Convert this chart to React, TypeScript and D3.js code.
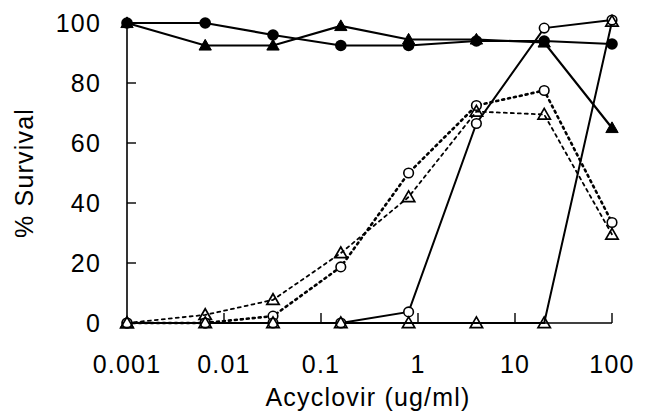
import React from "react";
import * as d3 from "d3";

// concentrations (first point = no drug, plotted at 0.001)
const conc = [0.001, 0.0064, 0.032, 0.16, 0.8, 4, 20, 100];

const filledCircle = [100, 100, 96, 92.5, 92.5, 94, 94, 93];
const filledTriangle = [100, 92.5, 92.5, 99, 94.5, 94.5, 93.5, 65];
const openCircleSolid = [0, 0, 0, 0, 3.7, 66.5, 98.3, 101];
const openTriangleSolid = [0, 0, 0, 0, 0, 0, 0, 100.5];
const openCircleDotted = [0, 0, 2.3, 18.7, 50, 72.5, 77.5, 33.5];
const openTriangleDotted = [0, 2.7, 7.7, 23.3, 42, 70.5, 69.5, 29.5];

const xTicks = [0.001, 0.01, 0.1, 1, 10, 100];
const xTickLabels = ["0.001", "0.01", "0.1", "1", "10", "100"];
const yTicks = [0, 20, 40, 60, 80, 100];

type Marker = "circle" | "triangle";

interface Series {
  values: number[];
  marker: Marker;
  filled: boolean;
  dash?: string;
  width: number;
}

const series: Series[] = [
  { values: openCircleDotted, marker: "circle", filled: false, dash: "2,4", width: 2.6 },
  { values: openTriangleDotted, marker: "triangle", filled: false, dash: "3,4", width: 1.8 },
  { values: openCircleSolid, marker: "circle", filled: false, width: 2 },
  { values: openTriangleSolid, marker: "triangle", filled: false, width: 2 },
  { values: filledCircle, marker: "circle", filled: true, width: 2.2 },
  { values: filledTriangle, marker: "triangle", filled: true, width: 2.2 },
];

const W = 653;
const H = 415;
const FONT = "'Liberation Sans', Arial, sans-serif";

export default function App() {
  const x = d3.scaleLog().domain([0.001, 100]).range([127, 612]);
  const y = d3.scaleLinear().domain([0, 100]).range([323, 23]);

  const line = d3
    .line<number>()
    .x((_, i) => x(conc[i]))
    .y((d) => y(d));

  const tri = d3.symbol().type(d3.symbolTriangle).size(66)();

  const marker = (s: Series, v: number, i: number) => {
    const cx = x(conc[i]);
    const cy = y(v);
    if (s.marker === "circle") {
      return s.filled ? (
        <circle key={i} cx={cx} cy={cy} r={5.8} fill="#000" />
      ) : (
        <circle key={i} cx={cx} cy={cy} r={4.8} fill="#fff" stroke="#000" strokeWidth={1.6} />
      );
    }
    return (
      <path
        key={i}
        d={tri ?? ""}
        transform={`translate(${cx},${cy + 1})`}
        fill={s.filled ? "#000" : "none"}
        stroke="#000"
        strokeWidth={s.filled ? 1 : 1.7}
        strokeLinejoin="miter"
      />
    );
  };

  return (
    <svg
      width={W}
      height={H}
      style={{ position: "absolute", left: 0, top: 0, background: "#fff" }}
      fontFamily={FONT}
    >
      <rect width={W} height={H} fill="#fff" />

      {/* axes */}
      <line x1={127} x2={127} y1={y(100)} y2={y(0)} stroke="#000" strokeWidth={1.6} />
      <line x1={127} x2={612} y1={y(0)} y2={y(0)} stroke="#000" strokeWidth={1.6} />
      {yTicks.slice(1, -1).map((t) => (
        <line key={t} x1={127} x2={136} y1={y(t)} y2={y(t)} stroke="#000" strokeWidth={1.4} />
      ))}
      {xTicks.slice(1).map((t) => (
        <line key={t} x1={x(t)} x2={x(t)} y1={y(0)} y2={y(0) - 10} stroke="#000" strokeWidth={1.4} />
      ))}

      {yTicks.map((t) => (
        <text
          key={t}
          x={101}
          y={y(t) + 9}
          textAnchor="end"
          fontSize={25}
          letterSpacing={1.2}
          fill="#000"
        >
          {t}
        </text>
      ))}
      {xTicks.map((t, i) => (
        <text
          key={t}
          x={x(t)}
          y={373}
          textAnchor="middle"
          fontSize={25}
          letterSpacing={1.2}
          fill="#000"
        >
          {xTickLabels[i]}
        </text>
      ))}

      <text x={368} y={406} textAnchor="middle" fontSize={25} letterSpacing={1.2} fill="#000">
        Acyclovir (ug/ml)
      </text>
      <text
        transform={`translate(33,${(y(0) + y(100)) / 2}) rotate(-90)`}
        textAnchor="middle"
        fontSize={25}
        letterSpacing={1.2}
        fill="#000"
      >
        % Survival
      </text>

      {/* lines */}
      {series.map((s, k) => (
        <path
          key={k}
          d={line(s.values) ?? ""}
          fill="none"
          stroke="#000"
          strokeWidth={s.width}
          strokeDasharray={s.dash}
          strokeLinecap={s.dash ? "round" : "butt"}
        />
      ))}

      {/* markers */}
      {series.map((s, k) => (
        <g key={k}>{s.values.map((v, i) => marker(s, v, i))}</g>
      ))}
    </svg>
  );
}
